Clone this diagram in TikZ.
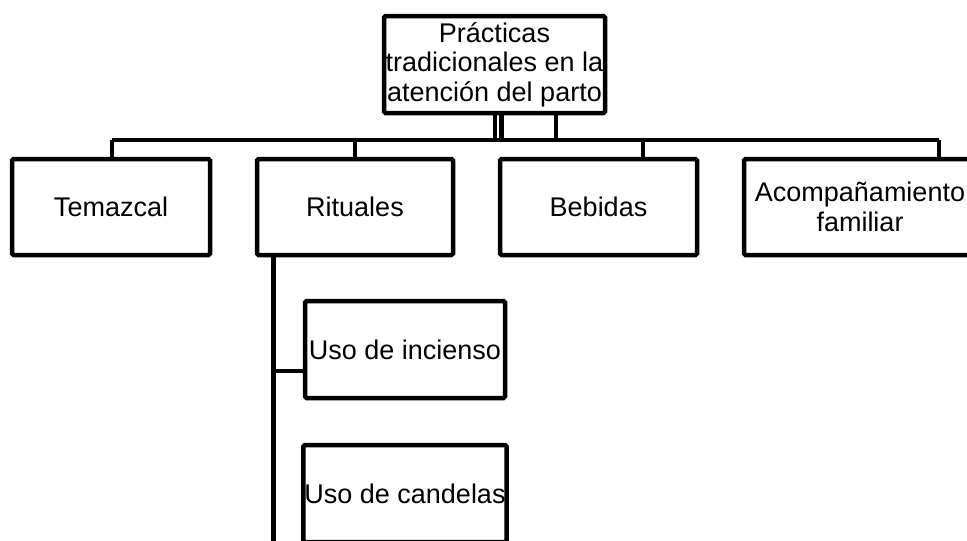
\documentclass[tikz,border=0pt]{standalone}
\usepackage{fontspec}
\setmainfont{Liberation Sans}
\usetikzlibrary{positioning}

\begin{document}
\begin{tikzpicture}[x=1pt,y=-1pt,
   blk/.style={draw,line width=4.5pt,fill=white,rounded corners=1.5pt,align=center,
     inner sep=1pt,font=\fontsize{27}{29.5}\selectfont},
   conn/.style={line width=4.5pt}]
  \useasboundingbox (0,0) rectangle (967,541);
  \clip (0,0) rectangle (967,541);
  % top box
  \node[blk,minimum width=221pt,minimum height=97pt] (root) at (494.5,64.5)
    {Prácticas\\tradicionales en la\\atención del parto};
  % second level
  \node[blk,minimum width=198pt,minimum height=96pt] (tem) at (111,207) {Temazcal};
  \node[blk,minimum width=196pt,minimum height=96pt] (rit) at (355,207) {Rituales};
  \node[blk,minimum width=197pt,minimum height=96pt] (beb) at (598.5,207) {Bebidas};
  \node[blk,minimum width=232pt,minimum height=96pt] (aco) at (860,207) {Acompañamiento\\familiar};
  % under Rituales
  \node[blk,minimum width=200pt,minimum height=97pt] (inc) at (405,349.5) {Uso de incienso};
  \node[blk,minimum width=200pt,minimum height=97pt] (can) at (405,493.5) {Uso de candelas};
  % bar
  \coordinate (barL) at (112,140);
  \coordinate (barR) at (939,140);
  \coordinate (ritdown) at (273.5,560);
  \draw[conn] (barL) -- (barR);
  \foreach \x in {495,501.5,556}
    \draw[conn] (root.south -| \x,0) -- (barL -| \x,0);
  \draw[conn] (barL) -- (barL |- tem.north);
  \draw[conn] (barL -| 355,0) -- (rit.north -| 355,0);
  \draw[conn] (barL -| 643,0) -- (beb.north -| 643,0);
  \draw[conn] (barR) -- (barR |- aco.north);
  \draw[conn] (rit.south -| ritdown) -- (ritdown);
  \draw[conn] (inc.west |- 0,371) -- (ritdown |- 0,371);
\end{tikzpicture}
\end{document}
